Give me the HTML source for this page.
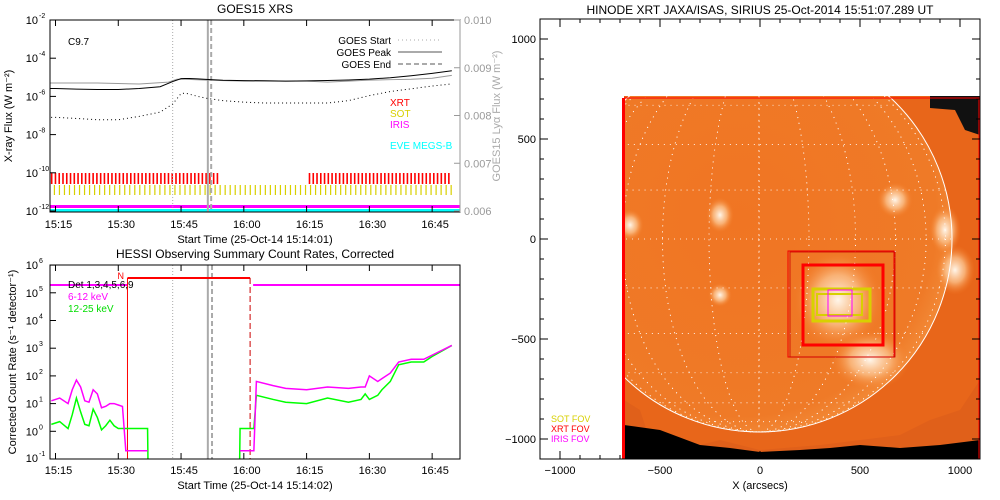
<!DOCTYPE html>
<html><head><meta charset="utf-8"><style>
body{margin:0;background:#fff;}
svg{display:block;font-family:"Liberation Sans",sans-serif;}
</style></head><body>
<svg id="s" width="1000" height="500" xmlns="http://www.w3.org/2000/svg">
<defs>
<clipPath id="cTop"><rect x="50" y="20" width="410" height="192"/></clipPath>
<clipPath id="cBot"><rect x="50" y="265" width="410" height="194"/></clipPath>
<clipPath id="cImg"><rect x="624" y="96" width="356" height="363"/></clipPath>
<radialGradient id="bright"><stop offset="0" stop-color="#fff6ea"/><stop offset="0.5" stop-color="#fbc089" stop-opacity="0.8"/><stop offset="1" stop-color="#f37a22" stop-opacity="0"/></radialGradient>
<radialGradient id="sunG" cx="0.45" cy="0.45" r="0.6"><stop offset="0" stop-color="#f07523"/><stop offset="0.85" stop-color="#ef7a27"/><stop offset="1" stop-color="#f4913f"/></radialGradient>
</defs>
<g id="top"></g>
<g id="bot"></g>
<g id="img"></g>
</svg>
<script>
// ---------- data ----------
const goesTimes = [-2,0,5,10,15,20,25,28,30,31,32,34,36,40,45,50,55,60,65,70,75,80,85,90,94.7];
const goesLong  = [2.6e-6,2.6e-6,2.4e-6,2.3e-6,2.3e-6,2.6e-6,3.2e-6,6e-6,8.5e-6,8.7e-6,8.6e-6,8.3e-6,7.8e-6,7.0e-6,6.7e-6,6.6e-6,6.3e-6,6.5e-6,6.8e-6,7.2e-6,8.0e-6,9.5e-6,1.2e-5,1.6e-5,2.2e-5];
const goesShort = [8e-8,8e-8,7e-8,6e-8,6e-8,9e-8,1.5e-7,4e-7,1.4e-6,1.5e-6,1.3e-6,1.0e-6,8e-7,6e-7,5e-7,4.5e-7,4.5e-7,4.5e-7,4.5e-7,6e-7,1.1e-6,1.8e-6,2.5e-6,3.5e-6,4.5e-6];
const lyaTimes = [-2,10,20,27,29,31,36,45,50,60,65,70,75,80,85,90,94.7];
const lyaFlux  = [0.00868,0.00868,0.00866,0.00870,0.00876,0.00876,0.00874,0.00872,0.00872,0.00872,0.00870,0.00872,0.00874,0.00875,0.00876,0.00878,0.00884];
const goesMarks = [28,36.4,37.2]; // start, peak, end (min after 15:15)
const xrtBlocks = [[-2,38.5],[60.5,94.7]];
const hessiTimes = [-1,1,3,4,5,6,7,8,9,10,11,12,13,14,15,16,16.8,17,22,22.1,44,44.1,47,47.4,48,52,55,60,65,70,73,74,75,77,78,80,82,85,88,90,94.7];
const hessiLo = [1.1,1.2,1.0,1.5,1.85,1.6,1.1,1.05,1.5,1.35,0.85,0.9,1.0,1.0,0.95,0.9,-0.7,-0.7,-0.7,null,null,-0.7,-0.7,-0.7,1.8,1.65,1.55,1.5,1.6,1.55,1.6,1.6,2.0,1.8,1.9,2.1,2.5,2.6,2.6,2.75,3.1];
const hessiHi = [0.25,0.35,0.1,0.6,1.2,0.7,0.25,0.2,0.8,0.5,0.05,0.2,0.4,0.2,0.1,0.1,0.1,0.1,0.1,-1.1,-1.1,0.1,0.1,0.1,1.3,1.15,1.05,1.0,1.2,1.05,1.15,1.35,1.15,1.3,1.5,1.8,2.4,2.5,2.5,2.7,3.1];
const hessiLines = [17.2,46.5]; // attenuator / night
const timeTicks = ['15:15','15:30','15:45','16:00','16:15','16:30','16:45'];
const topYTicks = [-2,-4,-6,-8,-10,-12];
const lyaTicks = ['0.006','0.007','0.008','0.009','0.010'];
const botYTicks = [-1,0,1,2,3,4,5,6];
const imgTicks = [-1000,-500,0,500,1000];

// ---------- helpers ----------
const NS='http://www.w3.org/2000/svg';
function mk(parent,tag,attrs,text){const e=document.createElementNS(NS,tag);for(const k in attrs)e.setAttribute(k,attrs[k]);if(text!==undefined)e.textContent=text;parent.appendChild(e);return e;}
const xT = m => 55.5 + m*4.185;
const yTop = v => 20 + (-2 - Math.log10(v))*19.1;
const yLya = v => 211 - (v-0.006)/0.004*191;
const yBot = l => 459 - (l+1)*27.7;
const axX = a => 760 + a*0.2;
const axY = a => 239 - a*0.2;

// ---------- top panel ----------
const T=document.getElementById('top');
let e;
e=mk(T,'text',{x:255,y:13,'text-anchor':'middle','font-size':12},'GOES15 XRS');

const tg=mk(T,'g',{'clip-path':'url(#cTop)'});
xrtBlocks.forEach(b=>{for(let m=b[0];m<b[1];m+=0.9){e=mk(tg,'rect',{x:xT(m),y:173,width:1.6,height:11,fill:'#ff0000'});}});
for(let m=-1.6;m<95;m+=1.2){e=mk(tg,'rect',{x:xT(m),y:185,width:1.2,height:10,fill:'#d8d000'});}
e=mk(tg,'rect',{x:50,y:205,width:410,height:3,fill:'#ff00ff'});
e=mk(tg,'rect',{x:50,y:209,width:410,height:3,fill:'#00ffff'});
e=mk(tg,'line',{x1:xT(goesMarks[0]),x2:xT(goesMarks[0]),y1:20,y2:212,stroke:'#aaa','stroke-dasharray':'1,2'});
e=mk(tg,'line',{x1:xT(goesMarks[1]),x2:xT(goesMarks[1]),y1:20,y2:212,stroke:'#aaa','stroke-width':2});
e=mk(tg,'line',{x1:xT(goesMarks[2]),x2:xT(goesMarks[2]),y1:20,y2:212,stroke:'#aaa','stroke-width':2,'stroke-dasharray':'5,3'});
e=mk(tg,'polyline',{points:lyaTimes.map((t,i)=>xT(t)+','+yLya(lyaFlux[i])).join(' '),fill:'none',stroke:'#999'});
e=mk(tg,'polyline',{points:goesTimes.map((t,i)=>xT(t)+','+yTop(goesLong[i])).join(' '),fill:'none',stroke:'#000'});
e=mk(tg,'polyline',{points:goesTimes.map((t,i)=>xT(t)+','+yTop(goesShort[i])).join(' '),fill:'none',stroke:'#000','stroke-dasharray':'1,3'});
e=mk(T,'rect',{x:50,y:20,width:410,height:192,fill:'none',stroke:'#000'});
e=mk(T,'line',{x1:460,x2:460,y1:20,y2:212,stroke:'#999'});
timeTicks.forEach((l,i)=>{const x=xT(i*15);mk(T,'line',{x1:x,x2:x,y1:212,y2:206,stroke:'#000'});mk(T,'line',{x1:x,x2:x,y1:20,y2:26,stroke:'#000'});e=mk(T,'text',{x:x+3,y:228,'text-anchor':'middle','font-size':11},l);});
topYTicks.forEach(p=>{const y=yTop(Math.pow(10,p));mk(T,'line',{x1:50,x2:56,y1:y,y2:y,stroke:'#000'});e=mk(T,'text',{x:38,y:y+4,'text-anchor':'end','font-size':11},'10');mk(T,'text',{x:39,y:y-2,'font-size':7},String(p));});
lyaTicks.forEach((l,i)=>{const y=yLya(0.006+i*0.001);mk(T,'line',{x1:460,x2:454,y1:y,y2:y,stroke:'#999'});e=mk(T,'text',{x:464,y:y+4,'font-size':11,fill:'#999'},l);});
e=mk(T,'text',{x:255,y:243,'text-anchor':'middle','font-size':11},'Start Time (25-Oct-14 15:14:01)');
e=mk(T,'text',{x:0,y:0,transform:'translate(12,116) rotate(-90)','text-anchor':'middle','font-size':11},'X-ray Flux (W m⁻²)');
e=mk(T,'text',{x:0,y:0,transform:'translate(500,116) rotate(-90)','text-anchor':'middle','font-size':11,fill:'#aaa'},'GOES15 Lyα Flux (W m⁻²)');
e=mk(T,'text',{x:68,y:45,'font-size':10},'C9.7');
[['GOES Start','1,3',1],['GOES Peak',null,2],['GOES End','5,3',2]].forEach((d,i)=>{const y=44+i*12;e=mk(T,'text',{x:391,y:y,'text-anchor':'end','font-size':10},d[0]);const a={x1:398,x2:442,y1:y-4,y2:y-4,stroke:'#aaa','stroke-width':d[2]};if(d[1])a['stroke-dasharray']=d[1];mk(T,'line',a);});
[['XRT','#ff0000',106],['SOT','#d8d000',117],['IRIS','#ff00ff',128],['EVE MEGS-B','#00ffff',149]].forEach(d=>{e=mk(T,'text',{x:390,y:d[2],'font-size':10,fill:d[1]},d[0]);});

// ---------- bottom panel ----------
const B=document.getElementById('bot');
e=mk(B,'text',{x:255,y:258,'text-anchor':'middle','font-size':12},'HESSI Observing Summary Count Rates, Corrected');
const bg=mk(B,'g',{'clip-path':'url(#cBot)'});
[[xT(28),'1,2',1],[xT(36.4),null,2],[xT(37.4),'5,3',2]].forEach(d=>{const a={x1:d[0],x2:d[0],y1:265,y2:459,stroke:'#aaa','stroke-width':d[2]};if(d[1])a['stroke-dasharray']=d[1];e=mk(bg,'line',a);});
e=mk(bg,'line',{x1:50,x2:xT(hessiLines[0]),y1:285,y2:285,stroke:'#ff00ff','stroke-width':2});
e=mk(bg,'line',{x1:xT(hessiLines[1])+3,x2:460,y1:285,y2:285,stroke:'#ff00ff','stroke-width':2});
e=mk(bg,'line',{x1:xT(hessiLines[0]),x2:xT(hessiLines[1]),y1:278,y2:278,stroke:'#ff0000','stroke-width':2});
e=mk(bg,'line',{x1:xT(hessiLines[0]),x2:xT(hessiLines[0]),y1:278,y2:459,stroke:'#ff0000'});
e=mk(bg,'line',{x1:xT(hessiLines[1]),x2:xT(hessiLines[1]),y1:278,y2:459,stroke:'#cc0000','stroke-dasharray':'6,3'});
mk(B,'text',{x:xT(hessiLines[0])-10,y:279,'font-size':9,fill:'#ff0000'},'N');
function seg(arr,color,name){let pts=[];const flush=()=>{if(pts.length>1){e=mk(bg,'polyline',{points:pts.join(' '),fill:'none',stroke:color,'stroke-width':1.5});}pts=[];};hessiTimes.forEach((t,i)=>{if(arr[i]===null){flush();return;}pts.push(xT(t)+','+yBot(arr[i]));});flush();}
seg(hessiHi,'#00ff00','hessi-12-25kev-line');
seg(hessiLo,'#ff00ff','hessi-6-12kev-line');
e=mk(B,'rect',{x:50,y:265,width:410,height:194,fill:'none',stroke:'#000'});
timeTicks.forEach((l,i)=>{const x=xT(i*15);mk(B,'line',{x1:x,x2:x,y1:459,y2:453,stroke:'#000'});mk(B,'line',{x1:x,x2:x,y1:265,y2:271,stroke:'#000'});e=mk(B,'text',{x:x+3,y:474,'text-anchor':'middle','font-size':11},l);});
botYTicks.forEach(p=>{const y=yBot(p);mk(B,'line',{x1:50,x2:56,y1:y,y2:y,stroke:'#000'});e=mk(B,'text',{x:38,y:Math.min(y+4,462),'text-anchor':'end','font-size':11},'10');mk(B,'text',{x:39,y:Math.min(y-2,456),'font-size':7},String(p));});
e=mk(B,'text',{x:255,y:489,'text-anchor':'middle','font-size':11},'Start Time (25-Oct-14 15:14:02)');
e=mk(B,'text',{x:0,y:0,transform:'translate(16,362) rotate(-90)','text-anchor':'middle','font-size':11},'Corrected Count Rate (s⁻¹ detector⁻¹)');
[['Det 1,3,4,5,6,9','#000',288],['6-12 keV','#ff00ff',300],['12-25 keV','#00dd00',312]].forEach(d=>{e=mk(B,'text',{x:68,y:d[2],'font-size':10,fill:d[1]},d[0]);});

// ---------- image panel ----------
const I=document.getElementById('img');
e=mk(I,'text',{x:760,y:14,'text-anchor':'middle','font-size':12},'HINODE XRT JAXA/ISAS, SIRIUS 25-Oct-2014 15:51:07.289 UT');
const ig=mk(I,'g',{'clip-path':'url(#cImg)'});
e=mk(ig,'rect',{x:624,y:96,width:356,height:363,fill:'#e8661a'});
mk(ig,'circle',{cx:759,cy:239,r:193,fill:'url(#sunG)'});
[[838,300,45,50],[895,200,18,18],[720,215,14,18],[630,225,14,16],[720,295,12,12],[945,230,16,25],[955,270,20,25],[870,360,40,30]].forEach(b=>{e=mk(ig,'ellipse',{cx:b[0],cy:b[1],rx:b[2],ry:b[3],fill:'url(#bright)'});});
mk(ig,'path',{d:'M624,459 L624,400 L640,410 L650,440 L700,445 L720,440 L760,450 L820,445 L860,440 L900,435 L930,420 L960,410 L980,380 L980,459 Z',fill:'#e0601a'});
mk(ig,'path',{d:'M624,459 L624,425 L660,430 L700,445 L730,448 L760,452 L800,450 L830,448 L860,445 L900,448 L940,445 L980,440 L980,459 Z',fill:'#000'});
mk(ig,'path',{d:'M930,96 L980,96 L980,135 L965,130 L955,110 L930,108 Z',fill:'#111'});
for(let la=-75;la<=75;la+=15){const y=239-193*Math.sin(la*Math.PI/180)*0.98;const hw=193*Math.cos(la*Math.PI/180);mk(ig,'line',{x1:759-hw,x2:759+hw,y1:y,y2:y,stroke:'#fff','stroke-width':0.8,'stroke-dasharray':'1,5'});}
for(let lo=-75;lo<=75;lo+=15){const cx=759+193*Math.sin(lo*Math.PI/180);mk(ig,'ellipse',{cx:759,cy:239,rx:Math.abs(cx-759)||0.1,ry:193,fill:'none',stroke:'#fff','stroke-width':0.8,'stroke-dasharray':'1,5'});}
e=mk(ig,'circle',{cx:759,cy:239,r:193,fill:'none',stroke:'#fff','stroke-width':1});
e=mk(I,'rect',{x:788,y:251,width:106,height:106,fill:'none',stroke:'#e00',"stroke-width":1});
mk(I,'rect',{x:790,y:252,width:105,height:105,fill:'none',stroke:'#c00','stroke-width':0.8});
e=mk(I,'rect',{x:803,y:265,width:80,height:80,fill:'none',stroke:'#ff0000','stroke-width':3});
e=mk(I,'rect',{x:813,y:289,width:57,height:32,fill:'none',stroke:'#d8d000','stroke-width':3});
mk(I,'rect',{x:817,y:294,width:45,height:21,fill:'none',stroke:'#d8d000','stroke-width':2});
e=mk(I,'rect',{x:828,y:290,width:24,height:26,fill:'none',stroke:'#ff00ff','stroke-width':1});
e=mk(I,'rect',{x:622,y:98,width:3,height:361,fill:'#ff0000'});
mk(I,'line',{x1:624,x2:980,y1:98,y2:98,stroke:'#ff0000'});
mk(I,'line',{x1:979,x2:979,y1:98,y2:459,stroke:'#ff0000'});
[['SOT FOV','#d8d000',422],['XRT FOV','#ff0000',432],['IRIS FOV','#ff00ff',442]].forEach(d=>{e=mk(I,'text',{x:551,y:d[2],'font-size':9,fill:d[1]},d[0]);});
e=mk(I,'rect',{x:540,y:19,width:440,height:440,fill:'none',stroke:'#000'});
for(let a=-1100;a<=1100;a+=100){const big=a%500===0;const x=axX(a),y=axY(a);const L=big?8:4;mk(I,'line',{x1:x,x2:x,y1:459,y2:459-L,stroke:'#000'});mk(I,'line',{x1:x,x2:x,y1:19,y2:19+L,stroke:'#000'});mk(I,'line',{x1:540,x2:540+L,y1:y,y2:y,stroke:'#000'});mk(I,'line',{x1:980,x2:980-L,y1:y,y2:y,stroke:'#000'});}
imgTicks.forEach(a=>{e=mk(I,'text',{x:axX(a),y:474,'text-anchor':'middle','font-size':11},String(a).replace('-','−'));e=mk(I,'text',{x:536,y:axY(a)+4,'text-anchor':'end','font-size':11},String(a).replace('-','−'));});
e=mk(I,'text',{x:760,y:489,'text-anchor':'middle','font-size':11},'X (arcsecs)');
</script>
</body></html>
